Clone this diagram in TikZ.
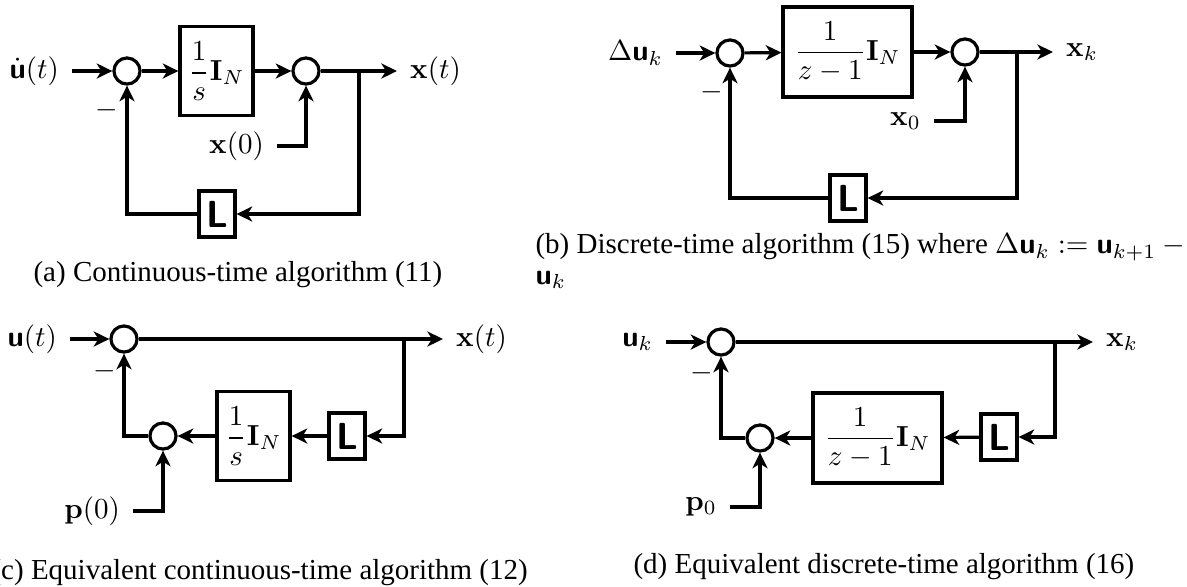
\documentclass[tikz,border=0pt]{standalone}
\usepackage{amsmath}
\usepackage[no-math]{fontspec}
\setmainfont{Liberation Serif}
\usetikzlibrary{arrows.meta}
\DeclareMathAlphabet{\mathbsf}{OT1}{cmss}{bx}{n}

\begin{document}
\begin{tikzpicture}[x=0.345pt, y=-0.345pt, line width=1.1pt,
  >={Stealth[length=5.4pt,width=5.2pt,inset=1.6pt]},
  sumj/.style={draw, circle, minimum size=9pt, inner sep=0pt},
  blk/.style={draw, rectangle, inner sep=0pt, minimum height=30.5pt},
  gainL/.style={draw, rectangle, inner sep=0pt, minimum width=12.4pt,
    minimum height=15.9pt, font=\fontsize{13}{15}\selectfont\sffamily\bfseries},
  sig/.style={inner sep=4pt},
  capt/.style={inner sep=0pt}]
  \useasboundingbox (0,0) rectangle (1187,586);

  % (a) continuous time
  \node[sig, anchor=east] (ua) at (72,71) {$\dot{\mathbsf{u}}(t)$};
  \node[sumj] (sa1) at (127,71) {};
  \node[blk, minimum width=25.2pt] (ba) at (216.5,71) {$\dfrac{1}{s}\mathbf{I}_N$};
  \node[sumj] (sa2) at (306,71) {};
  \node[sig, anchor=west] (xa) at (397,71) {$\mathbf{x}(t)$};
  \coordinate (bra) at (359,71);
  \node[sig, anchor=east] (x0a) at (277,146) {$\mathbf{x}(0)$};
  \node (ma) at (107,110) {$-$};
  \node[gainL] (La) at (217,214) {L};
  \draw[->] (ua) -- (sa1);
  \draw[->] (sa1) -- (ba);
  \draw[->] (ba) -- (sa2);
  \draw[->] (sa2) -- (xa);
  \draw[->] (x0a) -| (sa2);
  \draw[->] (bra) |- (La);
  \draw[->] (La) -| (sa1);
  \node[capt, anchor=base west] (capa) at (32,281) {(a) Continuous-time algorithm (11)};

  % (b) discrete time
  \node[sig, anchor=east] (ub) at (676,53) {$\Delta\mathbsf{u}_k$};
  \node[sumj] (sb1) at (730,53) {};
  \node[blk, minimum width=44.5pt, minimum height=31pt] (bb) at (847.5,52) {$\dfrac{1}{z-1}\mathbf{I}_N$};
  \node[sumj] (sb2) at (965,52) {};
  \node[sig, anchor=west] (xb) at (1053,52) {$\mathbf{x}_k$};
  \coordinate (brb) at (1017,52);
  \node[sig, anchor=east] (x0b) at (934,121) {$\mathbf{x}_0$};
  \node (mb) at (712,92) {$-$};
  \node[gainL] (Lb) at (848,198) {L};
  \draw[->] (ub) -- (sb1);
  \draw[->] (sb1) -- (bb);
  \draw[->] (bb) -- (sb2);
  \draw[->] (sb2) -- (xb);
  \draw[->] (x0b) -| (sb2);
  \draw[->] (brb) |- (Lb);
  \draw[->] (Lb) -| (sb1);
  \node[capt, anchor=north west, align=left] (capb) at (534,232)
    {(b) Discrete-time algorithm (15) where $\Delta\mathbsf{u}_k := \mathbsf{u}_{k+1} -{}$\\[-1.5pt] $\mathbsf{u}_k$};

  % (c) equivalent continuous time
  \node[sig, anchor=east] (uc) at (70,339) {$\mathbsf{u}(t)$};
  \node[sumj] (sc1) at (124,339) {};
  \node[sig, anchor=west] (xc) at (443,339) {$\mathbf{x}(t)$};
  \coordinate (brc) at (404,339);
  \node[gainL] (Lc) at (347,436) {L};
  \node[blk, minimum width=25.2pt] (bc) at (253.5,436) {$\dfrac{1}{s}\mathbf{I}_N$};
  \node[sumj] (sc2) at (163,436) {};
  \node[sig, anchor=east] (pc) at (133,511) {$\mathbf{p}(0)$};
  \node (mc) at (105,371) {$-$};
  \draw[->] (uc) -- (sc1);
  \draw[->] (sc1) -- (xc);
  \draw[->] (brc) |- (Lc);
  \draw[->] (Lc) -- (bc);
  \draw[->] (bc) -- (sc2);
  \draw[->] (sc2) -| (sc1);
  \draw[->] (pc) -| (sc2);
  \node[capt, anchor=base west] (capc) at (-10,579) {(c) Equivalent continuous-time algorithm (12)};

  % (d) equivalent discrete time
  \node[sig, anchor=east] (ud) at (666,342) {$\mathbsf{u}_k$};
  \node[sumj] (sd1) at (721,342) {};
  \node[sig, anchor=west] (xd) at (1093,342) {$\mathbf{x}_k$};
  \coordinate (brd) at (1055,342);
  \node[gainL] (Ld) at (999,437) {L};
  \node[blk, minimum width=44.5pt, minimum height=31pt] (bd) at (877.5,438) {$\dfrac{1}{z-1}\mathbf{I}_N$};
  \node[sumj] (sd2) at (760,438) {};
  \node[sig, anchor=east] (pd) at (730,507) {$\mathbf{p}_0$};
  \node (md) at (702,373) {$-$};
  \draw[->] (ud) -- (sd1);
  \draw[->] (sd1) -- (xd);
  \draw[->] (brd) |- (Ld);
  \draw[->] (Ld) -- (bd);
  \draw[->] (bd) -- (sd2);
  \draw[->] (sd2) -| (sd1);
  \draw[->] (pd) -| (sd2);
  \node[capt, anchor=base west] (capd) at (632,573) {(d) Equivalent discrete-time algorithm (16)};
\end{tikzpicture}
\end{document}
